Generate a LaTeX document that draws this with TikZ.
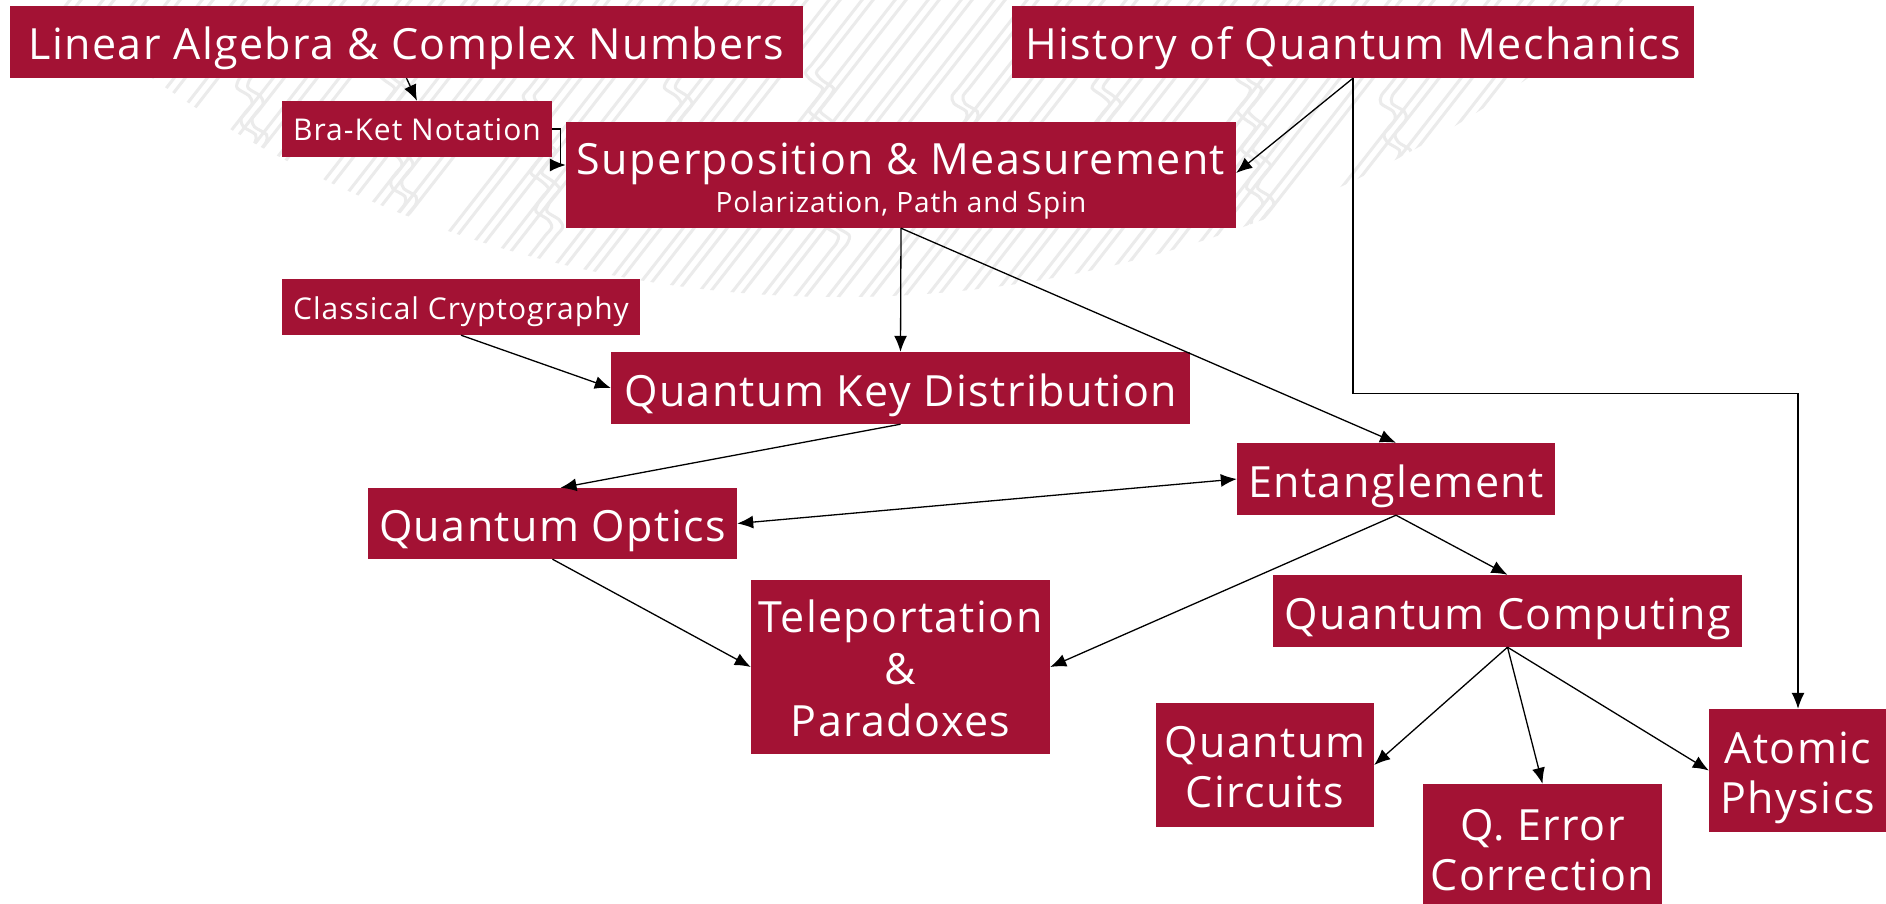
\documentclass[tikz,border=0pt]{standalone}
\usepackage{fontspec}
\setmainfont{Open Sans}[LetterSpace=3.3]
\usetikzlibrary{arrows.meta,calc}
\definecolor{crim}{RGB}{163,18,52}
\definecolor{patgray}{RGB}{235,235,235}
\newcommand\topstrut{\rule{0pt}{35pt}}
\begin{document}
\begin{tikzpicture}[x=1pt,y=-1pt,
  box/.style={fill=crim, text=white, inner sep=0pt, align=center, anchor=center},
  big/.style={font=\fontsize{43}{52}\selectfont, text height=41pt, text depth=5pt},
  bigm/.style={font=\fontsize{43}{52}\selectfont},
  bigb/.style={font=\fontsize{43}{50}\selectfont},
  small/.style={font=\fontsize{30}{34}\selectfont, text height=29pt, text depth=5pt},
  subtxt/.style={font=\fontsize{28}{32}\selectfont, text=white, inner sep=0pt},
  conn/.style={line width=1.3pt, -{Latex[length=16pt,width=13pt]}},
  dconn/.style={line width=1.3pt, {Latex[length=16pt,width=13pt]}-{Latex[length=16pt,width=13pt]}}]
\useasboundingbox (0,0) rectangle (1886,904);
\fill[white] (0,0) rectangle (1886,904);
% background texture
\begin{scope}
\clip (840,-893) circle (1190);
\foreach \i in {0,...,55}{
  \pgfmathsetmacro\xo{20+33*\i}
  \pgfmathsetmacro\yb{80+mod(\i*37,160)}
  \foreach \d in {0,11}{
    \draw[patgray, line width=3pt, line cap=round] plot[domain=-20:320, samples=45, smooth] ({\xo+\d-0.78*\x+16*sin(90*max(-1,min(1,(\x-\yb)/10)))}, \x);
  }
}
\end{scope}
% nodes
\node[box,big,minimum width=793pt,minimum height=72pt] (la) at (406.5,42) {Linear Algebra \& Complex Numbers};
\node[box,big,minimum width=682pt,minimum height=72pt] (hqm) at (1353,42) {History of Quantum Mechanics};
\node[box,small,minimum width=270pt,minimum height=56pt] (bk) at (417,129) {Bra-Ket Notation};
\node[box,font=\fontsize{43}{52}\selectfont,text height=40pt,text depth=40pt,minimum width=670pt,minimum height=106pt] (sp) at (901,175) {Superposition \& Measurement};
\node[subtxt,anchor=base] (spsub) at ($(sp.center)+(0,37)$) {Polarization, Path and Spin};
\node[box,small,minimum width=358pt,minimum height=56pt] (cc) at (461,307) {Classical Cryptography};
\node[box,big,minimum width=579pt,minimum height=72pt] (qkd) at (900.5,388) {Quantum Key Distribution};
\node[box,big,minimum width=369pt,minimum height=71pt] (qo) at (552.5,523.5) {Quantum Optics};
\node[box,big,minimum width=318pt,minimum height=72pt] (ent) at (1396,479) {Entanglement};
\node[box,bigm,minimum width=299pt,minimum height=174pt] (tel) at (900.5,667) {\topstrut Teleportation\\\&\\\smash{Paradoxes}};
\node[box,big,minimum width=469pt,minimum height=72pt] (qc) at (1507.5,611) {Quantum Computing};
\node[box,bigb,minimum width=218pt,minimum height=124pt] (qcirc) at (1265,765) {\topstrut Quantum\\\smash{Circuits}};
\node[box,bigb,minimum width=239pt,minimum height=128pt] (qec) at (1542.5,848) {\topstrut Q. Error\\\smash{Correction}};
\node[box,bigb,minimum width=178pt,minimum height=123pt] (ap) at (1798,770.5) {\topstrut Atomic\\\smash{Physics}};
% connectors
\draw[conn] (la.south) -- (bk.north);
\draw[conn] (bk.east) -- ++(8,0) |- ($(sp.west)+(0,-10)$);
\draw[conn] (hqm.south) -- ($(sp.east)+(0,-2)$);
\draw[conn] (hqm.south) -- ++(0,315) -| (ap.north);
\draw[conn] (sp.south) -- (qkd.north);
\draw[conn] (sp.south) -- (ent.north);
\draw[conn] (cc.south) -- (qkd.west);
\draw[conn] (qkd.south) -- ($(qo.north)+(8,0)$);
\draw[dconn] (qo.east) -- (ent.west);
\draw[conn] (qo.south) -- (tel.west);
\draw[conn] (ent.south) -- (tel.east);
\draw[conn] (ent.south) -- (qc.north);
\draw[conn] (qc.south) -- (qcirc.east);
\draw[conn] (qc.south) -- (qec.north);
\draw[conn] (qc.south) -- (ap.west);
\end{tikzpicture}
\end{document}
